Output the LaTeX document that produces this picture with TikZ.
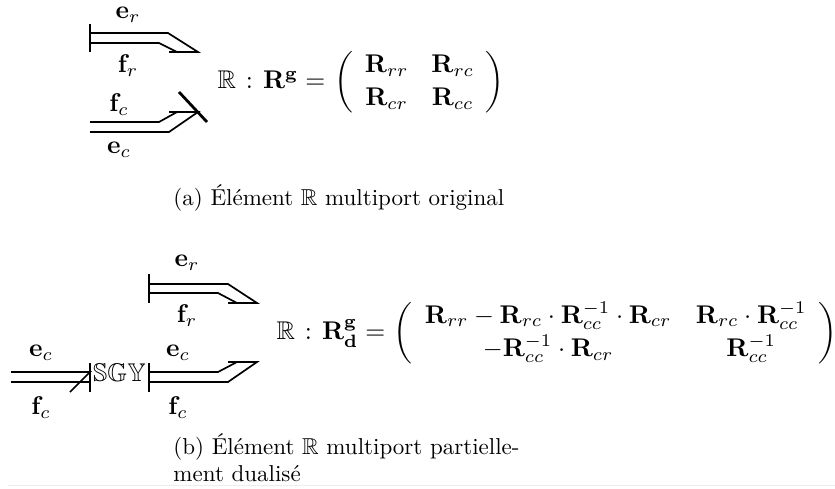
\documentclass[tikz,border=0pt]{standalone}
\usepackage{amsmath,amssymb}
\renewcommand{\arraystretch}{1.08}
\setlength{\arraycolsep}{4.5pt}
\newcommand{\pcolon}{\mkern2mu:\mkern2mu}
\tikzset{
  bond/.style={line width=1.7pt,line join=miter},
  bar/.style={line width=2.8pt},
  lbl/.style={inner sep=0pt,scale=2.56},
  capt/.style={inner sep=0pt,scale=2.3,align=left,anchor=west},
  edge line/.style={line width=1pt,black!7}
}
\begin{document}
\begin{tikzpicture}[x=1pt,y=-1pt]
\useasboundingbox (0,0) rectangle (835,488);
\coordinate (fl) at (8,485); \coordinate (fr) at (835,485);
\draw[edge line] (fl) -- (fr);
% (a) R port
\coordinate (a1) at (90,33); \coordinate (a2) at (168,33); \coordinate (a3) at (198,52);
\coordinate (a4) at (90,43); \coordinate (a5) at (159,43); \coordinate (a6) at (177,52); \coordinate (a7) at (169,52);
\coordinate (at) at (90,24); \coordinate (ab) at (90,52);
\draw[bond] (a1) -- (a2) -- (a3) -- (a7);
\draw[bond] (a4) -- (a5) -- (a6);
\draw[bar] (at) -- (ab);
\node[lbl] (er1) at (128,15) {$\mathbf{e}_r$};
\node[lbl] (fr1) at (128,66) {$\mathbf{f}_r$};
% (a) C port
\coordinate (b1) at (90,122); \coordinate (b2) at (159,122); \coordinate (b3) at (177,112); \coordinate (b4) at (169,112);
\coordinate (b5) at (198,112); \coordinate (b6) at (169,132); \coordinate (b7) at (90,132);
\coordinate (bt) at (179,92); \coordinate (bb) at (207,122);
\draw[bond] (b1) -- (b2) -- (b3);
\draw[bond] (b4) -- (b5) -- (b6) -- (b7);
\draw[bar] (bt) -- (bb);
\node[lbl] (fc1) at (119,105) {$\mathbf{f}_c$};
\node[lbl] (ec1) at (119,150) {$\mathbf{e}_c$};
\node[lbl,anchor=west] (eqa) at (217,82.5) {$\mathbb{R}\pcolon\mathbf{R}^{\mathbf{g}}=\mkern1.5mu\left(\begin{array}{cc}\mathbf{R}_{rr} & \mathbf{R}_{rc}\\ \mathbf{R}_{cr} & \mathbf{R}_{cc}\end{array}\right)$};
\node[capt] (capa) at (173,198) {(a) Élément $\mathbb{R}$ multiport original};
% (b) R port
\coordinate (c1) at (149,284); \coordinate (c2) at (228,284); \coordinate (c3) at (257,303);
\coordinate (c4) at (149,293); \coordinate (c5) at (218,293); \coordinate (c6) at (237,303); \coordinate (c7) at (228,303);
\coordinate (ct) at (149,274); \coordinate (cb) at (149,303);
\draw[bond] (c1) -- (c2) -- (c3) -- (c7);
\draw[bond] (c4) -- (c5) -- (c6);
\draw[bar] (ct) -- (cb);
\node[lbl] (er2) at (187,263) {$\mathbf{e}_r$};
\node[lbl] (fr2) at (187,316) {$\mathbf{f}_r$};
% (b) C port, right of SGY
\coordinate (d1) at (149,372); \coordinate (d2) at (218,372); \coordinate (d3) at (237,362); \coordinate (d4) at (228,362);
\coordinate (d5) at (257,362); \coordinate (d6) at (228,382); \coordinate (d7) at (149,382);
\coordinate (dt) at (149,363); \coordinate (db) at (149,392);
\draw[bond] (d1) -- (d2) -- (d3);
\draw[bond] (d4) -- (d5) -- (d6) -- (d7);
\draw[bar] (dt) -- (db);
\node[lbl] (ec3) at (178,353) {$\mathbf{e}_c$};
\node[lbl] (fc3) at (178,408) {$\mathbf{f}_c$};
% (b) left of SGY
\coordinate (e1) at (11,372); \coordinate (e2) at (90,372); \coordinate (e3) at (70,392);
\coordinate (e4) at (11,382); \coordinate (e5) at (90,382);
\coordinate (et) at (90,363); \coordinate (eb) at (90,392);
\draw[bond] (e1) -- (e2) -- (e3);
\draw[bond] (e4) -- (e5);
\draw[bar] (et) -- (eb);
\node[lbl] (ec2) at (41,353) {$\mathbf{e}_c$};
\node[lbl] (fc2) at (41,408) {$\mathbf{f}_c$};
\node[lbl] (sgy) at (119.5,373) {$\mathbb{SGY}$};
\node[lbl,anchor=west] (eqb) at (276,333) {\arraycolsep=4.8pt $\mathbb{R}\pcolon\mathbf{R}^{\mathbf{g}}_{\mathbf{d}}=\mkern1mu\left(\begin{array}{cc}\mathbf{R}_{rr}-\mathbf{R}_{rc}\cdot\mathbf{R}_{cc}^{-1}\cdot\mathbf{R}_{cr} & \mathbf{R}_{rc}\cdot\mathbf{R}_{cc}^{-1}\\ -\mathbf{R}_{cc}^{-1}\cdot\mathbf{R}_{cr} & \mathbf{R}_{cc}^{-1}\end{array}\right)$};
\node[capt,anchor=north west] (capb) at (173,433) {(b) Élément $\mathbb{R}$ multiport partielle-\\ment dualisé};
\end{tikzpicture}
\end{document}
